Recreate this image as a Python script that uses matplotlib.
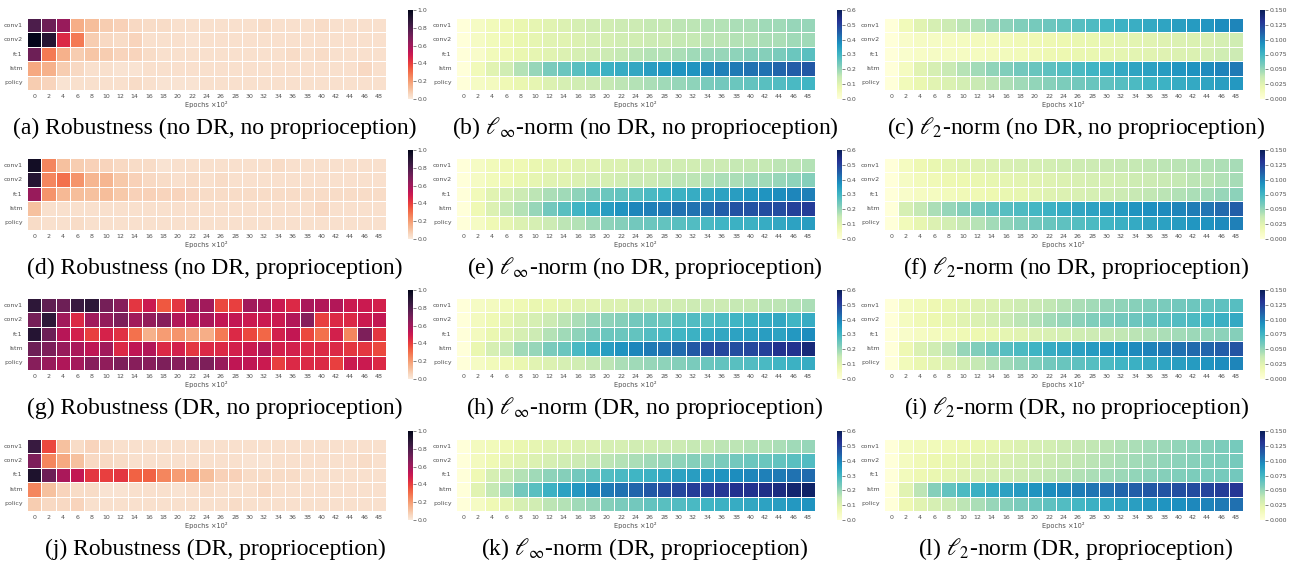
import numpy as np
import matplotlib
matplotlib.use("Agg")
import matplotlib.pyplot as plt
import seaborn as sns

plt.rcParams['mathtext.fontset'] = 'stix'

layers = ["conv1", "conv2", "fc1", "lstm", "policy"]
epochs = ["0", "2", "4", "6", "8", "10", "12", "14", "16", "18", "20", "22", "24",
          "26", "28", "30", "32", "34", "36", "38", "40", "42", "44", "46", "48"]

# robustness, rows = layers, cols = epochs
rob_a = [
    [0.80, 0.72, 0.62, 0.16, 0.12, 0.08, 0.07, 0.05, 0.04, 0.04, 0.03, 0.03, 0.03, 0.03, 0.03, 0.03, 0.04, 0.03, 0.03, 0.03, 0.04, 0.03, 0.03, 0.03, 0.03],
    [1.00, 0.90, 0.45, 0.28, 0.08, 0.05, 0.04, 0.06, 0.03, 0.03, 0.03, 0.02, 0.03, 0.03, 0.03, 0.03, 0.03, 0.03, 0.03, 0.03, 0.03, 0.03, 0.03, 0.03, 0.03],
    [0.72, 0.28, 0.15, 0.08, 0.10, 0.08, 0.06, 0.06, 0.04, 0.03, 0.03, 0.03, 0.03, 0.03, 0.03, 0.03, 0.03, 0.03, 0.04, 0.03, 0.04, 0.03, 0.03, 0.03, 0.03],
    [0.17, 0.15, 0.08, 0.05, 0.03, 0.03, 0.02, 0.02, 0.03, 0.03, 0.03, 0.03, 0.03, 0.03, 0.03, 0.03, 0.03, 0.03, 0.03, 0.03, 0.03, 0.03, 0.03, 0.05, 0.03],
    [0.08, 0.06, 0.02, 0.03, 0.03, 0.03, 0.03, 0.04, 0.03, 0.02, 0.02, 0.02, 0.03, 0.03, 0.03, 0.03, 0.03, 0.03, 0.03, 0.03, 0.03, 0.03, 0.03, 0.03, 0.03],
]
rob_d = [
    [0.95, 0.25, 0.11, 0.08, 0.07, 0.06, 0.05, 0.04, 0.04, 0.02, 0.03, 0.03, 0.03, 0.03, 0.03, 0.03, 0.03, 0.04, 0.03, 0.03, 0.03, 0.03, 0.03, 0.03, 0.03],
    [0.90, 0.25, 0.30, 0.22, 0.14, 0.14, 0.09, 0.07, 0.05, 0.04, 0.03, 0.04, 0.03, 0.04, 0.03, 0.03, 0.03, 0.03, 0.03, 0.03, 0.03, 0.03, 0.03, 0.03, 0.03],
    [0.62, 0.22, 0.13, 0.12, 0.11, 0.12, 0.09, 0.07, 0.07, 0.06, 0.06, 0.05, 0.04, 0.04, 0.04, 0.04, 0.04, 0.04, 0.04, 0.04, 0.04, 0.04, 0.04, 0.04, 0.04],
    [0.11, 0.03, 0.03, 0.03, 0.03, 0.03, 0.03, 0.03, 0.03, 0.03, 0.03, 0.03, 0.03, 0.03, 0.03, 0.03, 0.03, 0.03, 0.03, 0.03, 0.05, 0.03, 0.03, 0.03, 0.03],
    [0.04, 0.03, 0.03, 0.04, 0.03, 0.03, 0.03, 0.03, 0.03, 0.03, 0.03, 0.03, 0.03, 0.03, 0.03, 0.03, 0.03, 0.03, 0.03, 0.03, 0.03, 0.03, 0.03, 0.03, 0.03],
]
rob_g = [
    [0.88, 0.75, 0.72, 0.85, 0.88, 0.70, 0.66, 0.42, 0.50, 0.35, 0.42, 0.60, 0.60, 0.38, 0.40, 0.60, 0.58, 0.50, 0.45, 0.58, 0.56, 0.56, 0.50, 0.50, 0.48],
    [0.70, 0.88, 0.60, 0.45, 0.60, 0.63, 0.68, 0.60, 0.63, 0.66, 0.56, 0.55, 0.58, 0.52, 0.52, 0.50, 0.50, 0.50, 0.56, 0.66, 0.40, 0.45, 0.45, 0.50, 0.52],
    [0.90, 0.72, 0.55, 0.48, 0.40, 0.47, 0.43, 0.30, 0.15, 0.20, 0.22, 0.18, 0.16, 0.28, 0.45, 0.38, 0.32, 0.48, 0.52, 0.38, 0.30, 0.48, 0.25, 0.68, 0.42],
    [0.72, 0.68, 0.62, 0.58, 0.53, 0.60, 0.45, 0.53, 0.56, 0.45, 0.48, 0.42, 0.45, 0.45, 0.48, 0.50, 0.56, 0.48, 0.48, 0.45, 0.45, 0.45, 0.42, 0.42, 0.38],
    [0.66, 0.62, 0.57, 0.59, 0.66, 0.64, 0.68, 0.66, 0.66, 0.68, 0.66, 0.66, 0.68, 0.62, 0.53, 0.53, 0.50, 0.40, 0.45, 0.45, 0.45, 0.40, 0.50, 0.50, 0.45],
]
rob_j = [
    [0.85, 0.38, 0.11, 0.04, 0.06, 0.04, 0.03, 0.03, 0.03, 0.03, 0.03, 0.03, 0.03, 0.03, 0.03, 0.03, 0.03, 0.03, 0.03, 0.03, 0.03, 0.03, 0.03, 0.03, 0.03],
    [0.68, 0.25, 0.17, 0.11, 0.05, 0.05, 0.04, 0.03, 0.03, 0.03, 0.03, 0.03, 0.03, 0.03, 0.03, 0.02, 0.02, 0.03, 0.03, 0.03, 0.03, 0.03, 0.03, 0.04, 0.03],
    [0.92, 0.72, 0.58, 0.52, 0.42, 0.40, 0.42, 0.33, 0.33, 0.25, 0.20, 0.20, 0.12, 0.07, 0.07, 0.04, 0.04, 0.04, 0.04, 0.03, 0.03, 0.03, 0.03, 0.03, 0.03],
    [0.25, 0.11, 0.06, 0.04, 0.04, 0.02, 0.02, 0.03, 0.03, 0.03, 0.02, 0.03, 0.04, 0.03, 0.03, 0.03, 0.05, 0.03, 0.03, 0.03, 0.03, 0.03, 0.03, 0.03, 0.03],
    [0.08, 0.05, 0.05, 0.06, 0.03, 0.03, 0.03, 0.03, 0.03, 0.03, 0.03, 0.03, 0.03, 0.03, 0.04, 0.03, 0.03, 0.03, 0.03, 0.03, 0.03, 0.03, 0.03, 0.03, 0.03],
]

# l-infinity norm
linf_b = [
    [0, 0.04, 0.06, 0.07, 0.08, 0.09, 0.10, 0.11, 0.12, 0.13, 0.13, 0.14, 0.14, 0.15, 0.15, 0.16, 0.16, 0.17, 0.17, 0.18, 0.18, 0.19, 0.19, 0.20, 0.20],
    [0, 0.04, 0.06, 0.07, 0.08, 0.09, 0.10, 0.10, 0.11, 0.12, 0.12, 0.13, 0.13, 0.14, 0.14, 0.15, 0.15, 0.16, 0.16, 0.17, 0.17, 0.18, 0.18, 0.19, 0.19],
    [0, 0.03, 0.06, 0.07, 0.08, 0.09, 0.10, 0.11, 0.12, 0.13, 0.14, 0.15, 0.16, 0.17, 0.17, 0.18, 0.19, 0.20, 0.20, 0.21, 0.22, 0.22, 0.23, 0.25, 0.27],
    [0, 0.06, 0.10, 0.13, 0.17, 0.20, 0.23, 0.25, 0.27, 0.29, 0.31, 0.32, 0.33, 0.35, 0.36, 0.37, 0.37, 0.39, 0.40, 0.41, 0.42, 0.42, 0.44, 0.45, 0.46],
    [0, 0.04, 0.05, 0.07, 0.08, 0.09, 0.11, 0.12, 0.13, 0.14, 0.15, 0.16, 0.17, 0.18, 0.19, 0.20, 0.21, 0.23, 0.24, 0.25, 0.26, 0.27, 0.28, 0.29, 0.30],
]
linf_e = [
    [0, 0.04, 0.06, 0.07, 0.07, 0.08, 0.09, 0.09, 0.10, 0.10, 0.11, 0.11, 0.12, 0.12, 0.13, 0.13, 0.13, 0.14, 0.14, 0.15, 0.15, 0.15, 0.16, 0.16, 0.17],
    [0, 0.04, 0.06, 0.07, 0.08, 0.09, 0.10, 0.10, 0.11, 0.12, 0.12, 0.13, 0.14, 0.14, 0.15, 0.16, 0.16, 0.17, 0.18, 0.18, 0.19, 0.19, 0.20, 0.21, 0.22],
    [0, 0.06, 0.10, 0.12, 0.14, 0.16, 0.18, 0.19, 0.21, 0.23, 0.25, 0.26, 0.27, 0.29, 0.30, 0.31, 0.32, 0.33, 0.34, 0.35, 0.36, 0.37, 0.38, 0.39, 0.40],
    [0, 0.07, 0.11, 0.15, 0.17, 0.20, 0.24, 0.27, 0.30, 0.32, 0.35, 0.37, 0.39, 0.40, 0.41, 0.42, 0.42, 0.43, 0.45, 0.47, 0.47, 0.48, 0.48, 0.50, 0.51],
    [0, 0.04, 0.07, 0.09, 0.11, 0.12, 0.14, 0.16, 0.17, 0.19, 0.21, 0.22, 0.24, 0.25, 0.26, 0.27, 0.28, 0.29, 0.30, 0.31, 0.31, 0.32, 0.33, 0.34, 0.35],
]
linf_h = [
    [0, 0.04, 0.05, 0.06, 0.07, 0.08, 0.08, 0.09, 0.10, 0.10, 0.11, 0.11, 0.12, 0.12, 0.13, 0.13, 0.14, 0.14, 0.14, 0.15, 0.15, 0.16, 0.16, 0.17, 0.18],
    [0, 0.05, 0.07, 0.09, 0.11, 0.12, 0.14, 0.16, 0.18, 0.20, 0.21, 0.22, 0.24, 0.25, 0.25, 0.27, 0.28, 0.28, 0.29, 0.30, 0.31, 0.32, 0.33, 0.30, 0.32],
    [0, 0.05, 0.08, 0.10, 0.12, 0.14, 0.17, 0.19, 0.21, 0.23, 0.25, 0.25, 0.26, 0.28, 0.29, 0.30, 0.31, 0.32, 0.33, 0.34, 0.34, 0.35, 0.34, 0.36, 0.38],
    [0, 0.08, 0.12, 0.15, 0.19, 0.20, 0.23, 0.25, 0.29, 0.32, 0.35, 0.37, 0.39, 0.41, 0.42, 0.43, 0.46, 0.49, 0.49, 0.48, 0.49, 0.50, 0.53, 0.53, 0.56],
    [0, 0.04, 0.06, 0.07, 0.08, 0.10, 0.11, 0.12, 0.13, 0.15, 0.16, 0.18, 0.19, 0.20, 0.21, 0.22, 0.23, 0.25, 0.26, 0.27, 0.28, 0.29, 0.30, 0.31, 0.32],
]
linf_k = [
    [0, 0.05, 0.06, 0.07, 0.08, 0.09, 0.10, 0.10, 0.11, 0.11, 0.12, 0.12, 0.13, 0.13, 0.14, 0.14, 0.15, 0.15, 0.16, 0.16, 0.17, 0.17, 0.18, 0.19, 0.20],
    [0, 0.05, 0.07, 0.09, 0.10, 0.11, 0.12, 0.13, 0.14, 0.15, 0.16, 0.17, 0.18, 0.19, 0.20, 0.21, 0.22, 0.22, 0.23, 0.24, 0.25, 0.25, 0.26, 0.27, 0.28],
    [0, 0.07, 0.12, 0.15, 0.17, 0.19, 0.21, 0.22, 0.24, 0.26, 0.28, 0.29, 0.30, 0.31, 0.33, 0.34, 0.35, 0.36, 0.37, 0.38, 0.39, 0.40, 0.41, 0.42, 0.43],
    [0, 0.10, 0.15, 0.19, 0.24, 0.27, 0.31, 0.34, 0.36, 0.39, 0.41, 0.42, 0.44, 0.46, 0.48, 0.49, 0.51, 0.51, 0.52, 0.53, 0.53, 0.54, 0.55, 0.57, 0.58],
    [0, 0.04, 0.07, 0.09, 0.12, 0.13, 0.16, 0.17, 0.19, 0.20, 0.22, 0.23, 0.24, 0.26, 0.27, 0.28, 0.29, 0.30, 0.31, 0.32, 0.33, 0.34, 0.35, 0.36, 0.37],
]

# l2 norm
l2_c = [
    [0, 0.015, 0.025, 0.030, 0.035, 0.040, 0.045, 0.050, 0.053, 0.056, 0.059, 0.062, 0.065, 0.068, 0.071, 0.074, 0.077, 0.079, 0.082, 0.084, 0.087, 0.089, 0.091, 0.095, 0.098],
    [0, 0.008, 0.010, 0.010, 0.011, 0.012, 0.013, 0.014, 0.015, 0.016, 0.017, 0.018, 0.019, 0.020, 0.021, 0.022, 0.023, 0.024, 0.025, 0.026, 0.027, 0.028, 0.029, 0.031, 0.033],
    [0, 0.006, 0.009, 0.010, 0.010, 0.011, 0.012, 0.013, 0.014, 0.015, 0.016, 0.018, 0.019, 0.020, 0.021, 0.022, 0.023, 0.024, 0.025, 0.026, 0.027, 0.028, 0.030, 0.033, 0.035],
    [0, 0.012, 0.025, 0.030, 0.036, 0.042, 0.047, 0.052, 0.056, 0.060, 0.063, 0.066, 0.069, 0.072, 0.075, 0.078, 0.081, 0.084, 0.086, 0.088, 0.091, 0.093, 0.096, 0.099, 0.102],
    [0, 0.015, 0.020, 0.025, 0.028, 0.032, 0.036, 0.040, 0.044, 0.048, 0.051, 0.054, 0.057, 0.060, 0.063, 0.066, 0.069, 0.072, 0.075, 0.077, 0.080, 0.082, 0.084, 0.087, 0.090],
]
l2_f = [
    [0, 0.012, 0.018, 0.021, 0.023, 0.025, 0.026, 0.028, 0.029, 0.030, 0.031, 0.032, 0.033, 0.034, 0.035, 0.036, 0.037, 0.038, 0.039, 0.040, 0.041, 0.042, 0.043, 0.044, 0.046],
    [0, 0.010, 0.014, 0.016, 0.018, 0.019, 0.020, 0.022, 0.023, 0.024, 0.025, 0.026, 0.027, 0.029, 0.030, 0.031, 0.032, 0.034, 0.035, 0.036, 0.038, 0.040, 0.041, 0.043, 0.046],
    [0, 0.008, 0.011, 0.012, 0.014, 0.016, 0.017, 0.019, 0.021, 0.022, 0.024, 0.026, 0.027, 0.029, 0.031, 0.033, 0.035, 0.037, 0.039, 0.041, 0.043, 0.045, 0.047, 0.050, 0.053],
    [0, 0.030, 0.038, 0.045, 0.050, 0.055, 0.060, 0.064, 0.068, 0.071, 0.074, 0.077, 0.080, 0.083, 0.085, 0.087, 0.089, 0.092, 0.094, 0.096, 0.098, 0.101, 0.104, 0.108, 0.112],
    [0, 0.015, 0.022, 0.027, 0.032, 0.037, 0.042, 0.047, 0.052, 0.056, 0.060, 0.063, 0.066, 0.069, 0.072, 0.075, 0.078, 0.081, 0.084, 0.086, 0.088, 0.091, 0.093, 0.096, 0.100],
]
l2_i = [
    [0, 0.012, 0.015, 0.018, 0.020, 0.023, 0.026, 0.028, 0.031, 0.034, 0.036, 0.039, 0.042, 0.045, 0.047, 0.050, 0.052, 0.054, 0.056, 0.058, 0.060, 0.062, 0.064, 0.066, 0.068],
    [0, 0.012, 0.016, 0.019, 0.022, 0.025, 0.028, 0.032, 0.036, 0.040, 0.043, 0.047, 0.050, 0.053, 0.056, 0.058, 0.060, 0.062, 0.065, 0.067, 0.070, 0.072, 0.075, 0.078, 0.082],
    [0, 0.008, 0.011, 0.013, 0.015, 0.017, 0.019, 0.021, 0.023, 0.025, 0.027, 0.029, 0.031, 0.033, 0.035, 0.037, 0.039, 0.041, 0.043, 0.045, 0.047, 0.049, 0.051, 0.053, 0.055],
    [0, 0.018, 0.028, 0.033, 0.040, 0.050, 0.056, 0.062, 0.068, 0.072, 0.076, 0.080, 0.083, 0.086, 0.089, 0.091, 0.093, 0.096, 0.099, 0.102, 0.105, 0.108, 0.110, 0.113, 0.117],
    [0, 0.015, 0.020, 0.024, 0.028, 0.033, 0.038, 0.043, 0.048, 0.052, 0.056, 0.060, 0.063, 0.066, 0.069, 0.072, 0.075, 0.078, 0.081, 0.084, 0.087, 0.089, 0.092, 0.095, 0.098],
]
l2_l = [
    [0, 0.012, 0.014, 0.015, 0.016, 0.018, 0.020, 0.022, 0.025, 0.027, 0.030, 0.032, 0.035, 0.037, 0.039, 0.041, 0.043, 0.045, 0.047, 0.049, 0.051, 0.053, 0.055, 0.057, 0.059],
    [0, 0.012, 0.016, 0.019, 0.021, 0.023, 0.025, 0.027, 0.029, 0.031, 0.033, 0.035, 0.037, 0.039, 0.041, 0.043, 0.045, 0.047, 0.049, 0.051, 0.053, 0.054, 0.056, 0.057, 0.059],
    [0, 0.014, 0.018, 0.020, 0.023, 0.026, 0.029, 0.031, 0.033, 0.035, 0.037, 0.039, 0.041, 0.043, 0.045, 0.047, 0.049, 0.051, 0.053, 0.055, 0.056, 0.057, 0.058, 0.059, 0.060],
    [0, 0.025, 0.040, 0.055, 0.065, 0.072, 0.078, 0.082, 0.086, 0.089, 0.092, 0.095, 0.098, 0.101, 0.104, 0.107, 0.110, 0.112, 0.115, 0.117, 0.119, 0.121, 0.124, 0.127, 0.130],
    [0, 0.018, 0.025, 0.030, 0.035, 0.040, 0.045, 0.050, 0.054, 0.058, 0.062, 0.066, 0.070, 0.074, 0.078, 0.081, 0.084, 0.087, 0.090, 0.092, 0.094, 0.097, 0.099, 0.102, 0.106],
]

rob_ticks = [0.0, 0.2, 0.4, 0.6, 0.8, 1.0]
linf_ticks = [0.0, 0.1, 0.2, 0.3, 0.4, 0.5, 0.6]
l2_ticks = [0.0, 0.025, 0.05, 0.075, 0.1, 0.125, 0.15]

settings = ["no DR, no proprioception", "no DR, proprioception",
            "DR, no proprioception", "DR, proprioception"]
letters = "abcdefghijkl"

kinds = [
    ("Robustness", "rocket_r", 1.0, rob_ticks, "{:.1f}", [rob_a, rob_d, rob_g, rob_j]),
    (r"$\ell_\infty$-norm", "YlGnBu", 0.6, linf_ticks, "{:.1f}", [linf_b, linf_e, linf_h, linf_k]),
    (r"$\ell_2$-norm", "YlGnBu", 0.15, l2_ticks, "{:.3f}", [l2_c, l2_f, l2_i, l2_l]),
]

W, H = 1305, 566
fig = plt.figure(figsize=(W / 100, H / 100), dpi=100)

def px_axes(x, y, w, h):
    return fig.add_axes([x / W, 1 - (y + h) / H, w / W, h / H])

heat_left = [27, 456, 884]
cbar_left = [408, 837, 1260]
cap_x = [215, 645, 1076]
row_top = [18, 158, 298, 439]
grey = "#505050"

for c, (name, cmap, vmax, ticks, fmt, grids) in enumerate(kinds):
    for r in range(4):
        top = row_top[r]
        ax = px_axes(heat_left[c], top, 359, 72)
        cax = px_axes(cbar_left[c], top - 8, 5, 89)
        sns.heatmap(np.array(grids[r]), ax=ax, cbar_ax=cax, cmap=cmap,
                    vmin=0, vmax=vmax, linewidths=0.7, linecolor="white",
                    xticklabels=epochs, yticklabels=layers)
        ax.tick_params(length=0, labelsize=4.5, colors=grey, pad=3)
        ax.set_yticklabels(layers, rotation=0)
        ax.set_xticklabels(epochs, rotation=0)
        ax.set_xlabel("Epochs \u00d710\u00b2", fontsize=4.8, color=grey, labelpad=1)
        cbar = ax.collections[0].colorbar
        cbar.outline.set_visible(False)
        cbar.set_ticks(ticks)
        cbar.set_ticklabels([fmt.format(t) for t in ticks])
        cax.tick_params(length=2, width=0.5, labelsize=4.5, colors=grey, pad=1)
        idx = r * 3 + c
        fig.text(cap_x[c] / W, 1 - (top + 110) / H,
                 "(%s) %s (%s)" % (letters[idx], name, settings[r]),
                 ha="center", va="center", fontsize=17, family="Liberation Serif")

fig.savefig("out.png", dpi=100)
